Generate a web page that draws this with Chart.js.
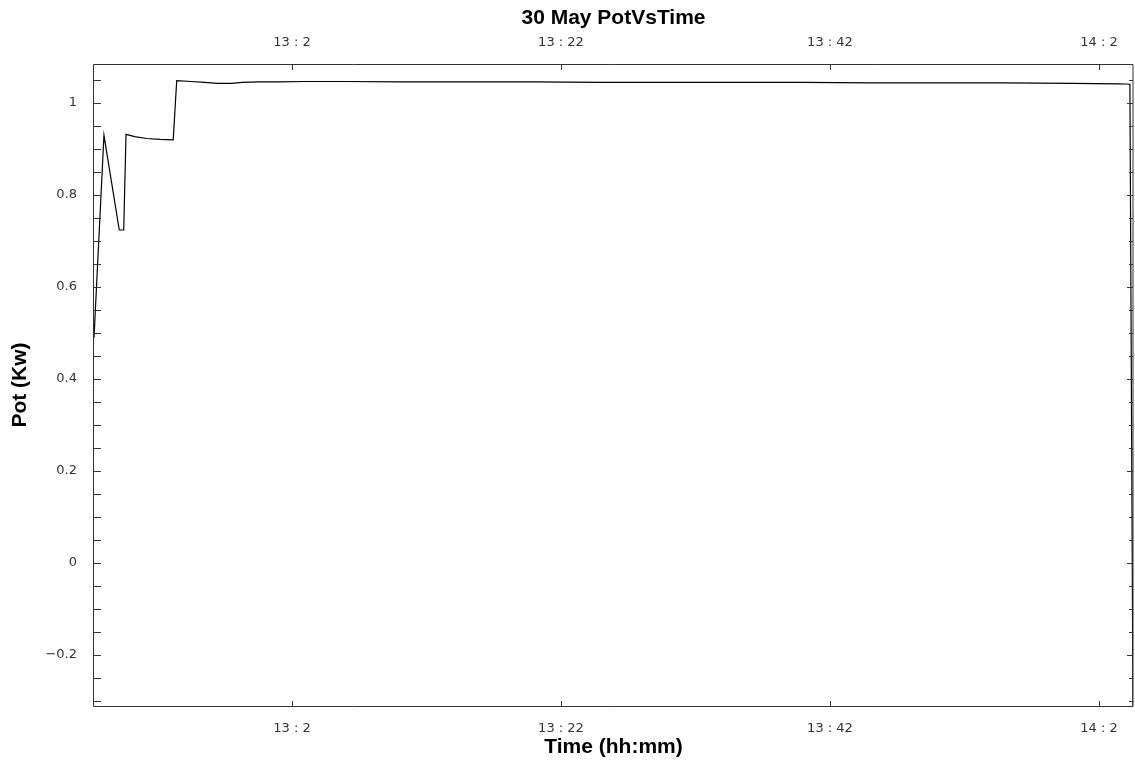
<!DOCTYPE html>
<html><head><meta charset="utf-8">
<script src="https://cdn.jsdelivr.net/npm/chart.js@4/dist/chart.umd.min.js"></script>
<style>html,body{margin:0;padding:0;background:#fff}#wrap{width:1135px;height:762px}</style>
</head><body><div id="wrap"><canvas id="c" width="1135" height="762"></canvas></div>
<script>
// time in minutes since midnight
const timeMinutes = [767.28, 768.02, 769.16, 769.49, 769.66, 770.3, 771.2, 772.2, 773.17, 773.43,
  774.5, 775.5, 776.5, 777.5, 778.3, 779.5, 781, 783, 786, 790, 795, 800, 805, 810, 815, 820,
  825, 830, 835, 840, 843.5, 844.3, 844.53];
const potKw = [0.49, 0.93, 0.724, 0.724, 0.932, 0.927, 0.923, 0.921, 0.920, 1.049,
  1.047, 1.045, 1.043, 1.043, 1.045, 1.046, 1.046, 1.047, 1.047, 1.046, 1.046, 1.046, 1.045, 1.045, 1.045, 1.045,
  1.044, 1.044, 1.044, 1.043, 1.042, 1.041, -0.33];
const xTickMinutes = [782, 802, 822, 842];
const yTickValues = [-0.2, 0, 0.2, 0.4, 0.6, 0.8, 1];
const xMin = 767.28, xMax = 844.53;
const yMin = -0.311, yMax = 1.085;

const fmtTime = v => Math.floor(v / 60) + ' : ' + Math.round(v % 60);
const fmtY = v => v < 0 ? '\u2212' + String(-v) : String(v);

const tickFont = {family: 'DejaVu Sans', size: 13};
const titleFont = {family: 'Liberation Sans', size: 21, weight: 'bold'};

const frameTicks = {
  id: 'frameTicks',
  afterDraw(chart) {
    const {ctx, chartArea: a, scales} = chart;
    ctx.save();
    ctx.strokeStyle = '#333';
    ctx.lineWidth = 1;
    ctx.beginPath();
    ctx.rect(a.left - 0.5, a.top + 0.5, a.right - a.left + 0.5, a.bottom - a.top);
    ctx.stroke();
    ctx.beginPath();
    const ys = scales.y;
    for (let k = Math.ceil(yMin / 0.05); k <= Math.floor(yMax / 0.05); k++) {
      const py = Math.round(ys.getPixelForValue(k * 0.05)) + 0.5;
      const major = k % 4 === 0;
      ctx.moveTo(a.left, py); ctx.lineTo(a.left + 7, py);
      ctx.moveTo(a.right, py); ctx.lineTo(a.right - (major ? 6 : 4), py);
    }
    const xs = scales.x;
    xTickMinutes.forEach(v => {
      const px = Math.round(xs.getPixelForValue(v)) + 0.5;
      ctx.moveTo(px, a.bottom); ctx.lineTo(px, a.bottom - 5);
      ctx.moveTo(px, a.top); ctx.lineTo(px, a.top + 6);
    });
    ctx.stroke();
    ctx.restore();
  }
};

function xAxis(position, height, title, titlePad, tickPad) {
  return {
    type: 'linear', position, min: xMin, max: xMax,
    afterBuildTicks: s => { s.ticks = xTickMinutes.map(v => ({value: v})); },
    afterFit: s => { s.height = height; },
    ticks: {callback: v => fmtTime(v), font: tickFont, color: '#333', padding: tickPad, maxRotation: 0, autoSkip: false},
    grid: {drawOnChartArea: false, drawTicks: false},
    border: {display: false},
    title: {display: true, text: title, font: titleFont, color: '#000', padding: titlePad}
  };
}

new Chart(document.getElementById('c'), {
  type: 'line',
  data: {
    datasets: [{
      data: timeMinutes.map((t, i) => ({x: t, y: potKw[i]})),
      borderColor: '#000', borderWidth: 1.2, pointRadius: 0, tension: 0, fill: false
    }]
  },
  options: {
    responsive: false, animation: false, devicePixelRatio: 1,
    layout: {padding: {left: 0, right: 2, top: 0, bottom: 0}},
    plugins: {legend: {display: false}, tooltip: {enabled: false}, title: {display: false}},
    scales: {
      x: xAxis('bottom', 56, 'Time (hh:mm)', {top: 0, bottom: 2}, 15),
      x2: xAxis('top', 64, '30 May PotVsTime', {top: 6, bottom: 0}, 14),
      y: {
        type: 'linear', position: 'left', min: yMin, max: yMax,
        afterBuildTicks: s => { s.ticks = yTickValues.map(v => ({value: v})); },
        afterFit: s => { s.width = 94; },
        ticks: {callback: v => fmtY(v), font: tickFont, color: '#333', padding: 17},
        grid: {drawOnChartArea: false, drawTicks: false},
        border: {display: false},
        title: {display: true, text: 'Pot (Kw)', font: titleFont, color: '#000', padding: {top: 8, bottom: 0}}
      }
    }
  },
  plugins: [frameTicks]
});
</script></body></html>
